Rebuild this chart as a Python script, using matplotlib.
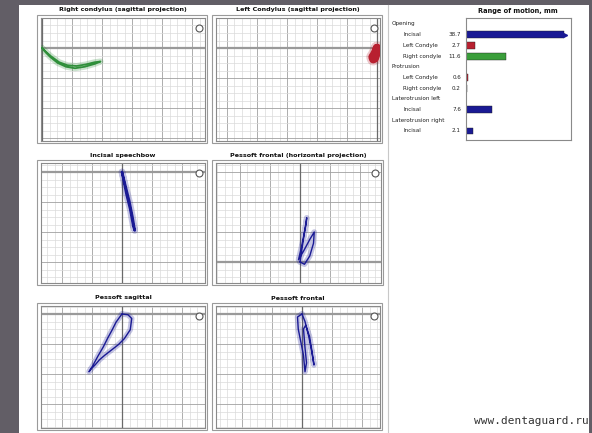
import matplotlib
matplotlib.use('Agg')
from matplotlib import pyplot as plt
from matplotlib.patches import Rectangle
from matplotlib.lines import Line2D
from matplotlib.ticker import MultipleLocator

W, H = 592, 433
UNIT = 7.5  # px per grid cell (1 mm)

# --- traces, mm relative to the crosshair origin ---
# right condylus, sagittal projection (green)
rc_x = [0, 0.5, 1.1, 2.1, 3.2, 4.4, 5.7, 7.1, 7.8, 7.0, 5.8, 4.6, 3.4, 2.3, 1.2, 0.4, 0]
rc_y = [0, -0.6, -1.2, -2.0, -2.5, -2.7, -2.5, -2.1, -1.8, -1.9, -2.2, -2.4, -2.3, -1.9, -1.1, -0.4, 0]
# left condylus, sagittal projection (red)
lc_x = [0, -0.2, -0.4, -0.6, -0.5, -0.3, -0.1, 0]
lc_y = [0, -0.5, -0.9, -1.2, -1.5, -1.4, -0.8, 0]
# incisal point, frontal
ip_x = [0, 0.5, 1.0, 1.4, 1.7, 1.5, 1.1, 0.6, 0.2, 0]
ip_y = [0, -2.0, -4.0, -6.0, -7.8, -7.2, -5.0, -3.0, -1.0, 0]
# pessoft frontal, horizontal projection
hz_x = [0, 0.3, 0.6, 0.9, 0.8, 0.2, -0.2, 0.5, 1.3, 1.9, 1.8, 1.3, 0.6, 0]
hz_y = [0, 2.0, 4.0, 5.9, 5.0, 2.0, 0.3, 1.5, 3.0, 4.0, 2.5, 0.8, -0.3, 0]
# pessoft sagittal
sg_x = [0, 0.8, 1.3, 1.1, 0.3, -0.5, -1.4, -2.3, -3.0, -3.6, -4.1, -4.4,
        -3.9, -3.2, -2.5, -1.9, -1.3, -0.8, -0.3, 0]
sg_y = [0, -0.1, -0.6, -2.1, -3.3, -4.1, -4.8, -5.5, -6.1, -6.8, -7.3, -7.7,
        -6.9, -5.6, -4.4, -3.2, -2.1, -1.1, -0.4, 0]
# pessoft frontal
fr_x = [0, -0.6, -0.5, -0.2, 0.2, 0.4, 0.6, 0.4, 0.2, 0.5, 1.0, 1.3, 1.6, 1.3, 0.9, 0.4, 0]
fr_y = [0, -0.4, -2.0, -3.5, -5.5, -7.7, -6.5, -4.5, -2.0, -1.5, -3.0, -4.8, -6.8, -5.0, -3.0, -1.0, 0]

# --- range of motion table ---
rom_labels = ['Opening', 'Incisal', 'Left Condyle', 'Right condyle',
              'Protrusion', 'Left Condyle', 'Right condyle',
              'Laterotrusion left', 'Incisal',
              'Laterotrusion right', 'Incisal']
rom_header = [True, False, False, False, True, False, False, True, False, True, False]
rom_values = [None, 38.7, 2.7, 11.6, None, 0.6, 0.2, None, 7.6, None, 2.1]

BLUE = '#1a1a94'
RED = '#b82030'
GREEN = '#2f8f3a'
rom_colors = [None, BLUE, RED, '#3a9e3a', None, RED, '#3a9e3a', None, BLUE, None, BLUE]


def px_rect(x0, y0, x1, y1):
    return [x0 / W, 1 - y1 / H, (x1 - x0) / W, (y1 - y0) / H]


fig = plt.figure(figsize=(W / 100, H / 100), dpi=100, facecolor='#625e66')

# white sheet of the screenshot
fig.patches.append(Rectangle((19 / W, 0), (589 - 19) / W, 1 - 5 / H,
                             transform=fig.transFigure, facecolor='white',
                             edgecolor='none', zorder=-5))
fig.lines.append(Line2D([388 / W, 388 / W], [0, 1 - 5 / H], transform=fig.transFigure,
                        color='#c8c8c8', lw=0.8, zorder=-4))

panels = [
    # title, plot area (px), origin (px), x, y, colour, width
    ("Right condylus (sagittal projection)", (41, 18, 205, 141), (42, 48), rc_x, rc_y, GREEN, 1.3),
    ("Left Condylus (sagittal projection)", (216, 18, 380, 141), (377, 48), lc_x, lc_y, RED, 6),
    ("Incisal speechbow", (41, 163, 205, 283), (122, 172), ip_x, ip_y, BLUE, 1.8),
    ("Pessoft frontal (horizontal projection)", (216, 163, 381, 283), (300, 262), hz_x, hz_y, BLUE, 1.0),
    ("Pessoft sagittal", (41, 306, 205, 428), (122, 314), sg_x, sg_y, BLUE, 1.0),
    ("Pessoft frontal", (216, 306, 380, 428), (302, 314), fr_x, fr_y, BLUE, 1.0),
]

for title, (x0, y0, x1, y1), (ox, oy), xs, ys, col, lw in panels:
    ax = fig.add_axes(px_rect(x0, y0, x1, y1))
    ax.set_xlim((x0 - ox) / UNIT, (x1 - ox) / UNIT)
    ax.set_ylim((oy - y1) / UNIT, (oy - y0) / UNIT)
    ax.xaxis.set_major_locator(MultipleLocator(4))
    ax.yaxis.set_major_locator(MultipleLocator(4))
    ax.xaxis.set_minor_locator(MultipleLocator(1))
    ax.yaxis.set_minor_locator(MultipleLocator(1))
    ax.grid(which='minor', color='#dadada', lw=0.5)
    ax.grid(which='major', color='#a0a0a0', lw=0.6)
    ax.tick_params(which='both', length=0, labelbottom=False, labelleft=False)
    for s in ax.spines.values():
        s.set_color('#8a8a8a')
        s.set_linewidth(0.8)
    ax.axhline(0, color='#9a9a9a', lw=1.6, zorder=2)
    ax.axvline(0, color='#6a6a6a', lw=0.9, zorder=2)
    ax.plot(xs, ys, color=col, lw=lw + 3, alpha=0.25, solid_capstyle='round', zorder=3)
    ax.plot(xs, ys, color=col, lw=lw, solid_capstyle='round', zorder=4)
    ax.plot([0.965], [0.92], transform=ax.transAxes, marker='o', ms=5, mfc='white',
            mec='#555555', mew=0.8, zorder=5)
    # outer frame
    fig.patches.append(Rectangle(((x0 - 4) / W, 1 - (y1 + 2) / H), (x1 - x0 + 6) / W,
                                 (y1 - y0 + 5) / H, transform=fig.transFigure,
                                 facecolor='none', edgecolor='#9a9a9a', lw=0.8, zorder=1))
    fig.text((x0 + x1) / 2 / W, 1 - (y0 - 8) / H, title, ha='center', va='center',
             fontsize=4.6, fontweight='bold', color='#111111')

# range of motion bars
bx = fig.add_axes(px_rect(466, 18, 571, 140))
n = len(rom_labels)
top_row = (24 - 18) / 10.7
bx.set_ylim(n - 1 + (140 - 131) / 10.7, -top_row)
bx.set_xlim(0, 30.5)
cap = 28.4
for i, (lab, hdr, v, c) in enumerate(zip(rom_labels, rom_header, rom_values, rom_colors)):
    tx = (392 if hdr else 403) / W
    ty = (H - (24 + 10.7 * i)) / H
    fig.text(tx, ty, lab, ha='left', va='center', fontsize=4.1, color='#222222')
    if v is None:
        continue
    fig.text(461 / W, ty, f"{v:.1f}", ha='right', va='center', fontsize=4.1, color='#222222')
    bx.barh(i, min(v, cap), height=0.65, color=c, edgecolor='#202020', lw=0.3)
    if v > cap:
        bx.plot([cap + 0.5], [i], marker='>', ms=3, color=c)
bx.set_xticks([])
bx.set_yticks([])
for s in bx.spines.values():
    s.set_color('#8a8a8a')
    s.set_linewidth(0.8)
fig.text(518 / W, 1 - 11 / H, "Range of motion, mm", ha='center', va='center',
         fontsize=4.8, fontweight='bold', color='#111111')

fig.text(589 / W, 1 - 421 / H, "www.dentaguard.ru", ha='right', va='center',
         fontsize=8, family='DejaVu Sans Mono', color='#333333')

fig.savefig('out.png', dpi=100, facecolor=fig.get_facecolor())
